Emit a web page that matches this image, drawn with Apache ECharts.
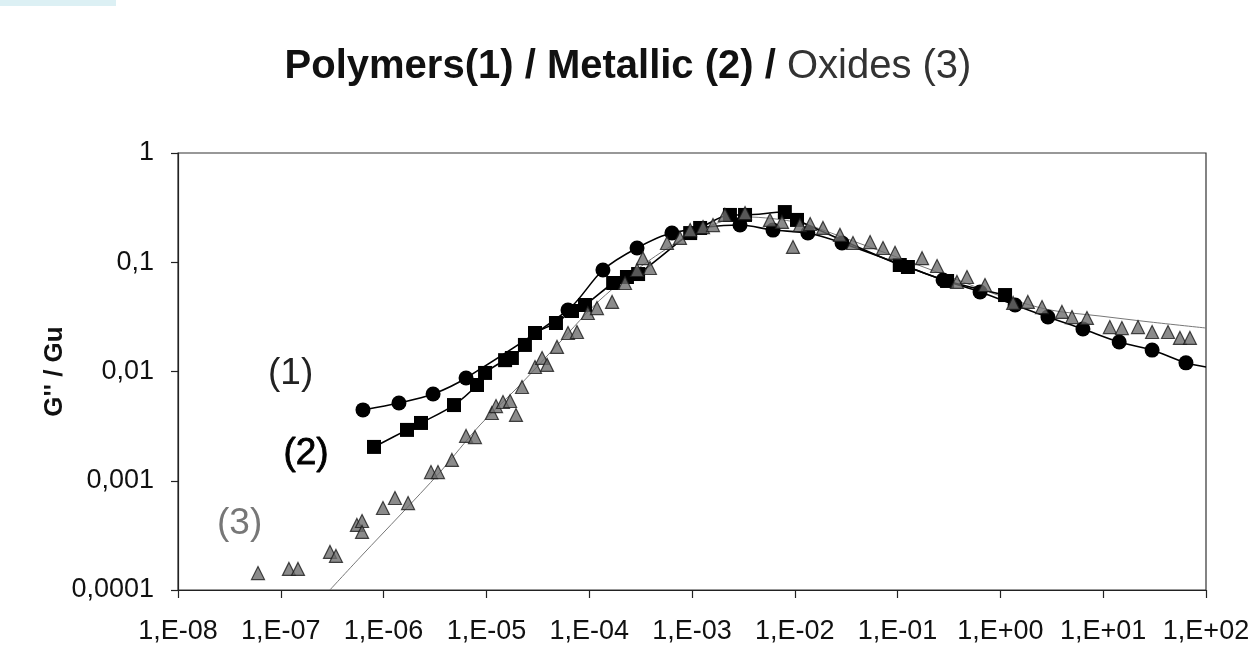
<!DOCTYPE html>
<html>
<head>
<meta charset="utf-8">
<script src="https://cdn.jsdelivr.net/npm/echarts@6/dist/echarts.min.js"></script>
<style>
html,body{margin:0;padding:0;background:#fff;}
#chart{width:1256px;height:646px;}
</style>
</head>
<body>
<div id="chart"></div>
<script>
// ---- data (x = frequency-like reduced variable, y = G''/Gu) ----
const xTickLabels = ['1,E-08','1,E-07','1,E-06','1,E-05','1,E-04','1,E-03','1,E-02','1,E-01','1,E+00','1,E+01','1,E+02'];
const yTickLabels = ['0,0001','0,001','0,01','0,1','1'];

// (1) Polymers - circles
const polymersX = [6.3e-7,1.41e-6,3.03e-6,6.34e-6,6.22e-5,1.36e-4,2.92e-4,6.38e-4,2.93e-3,6.14e-3,1.34e-2,2.88e-2,0.277,0.634,1.39,2.90,6.35,14.3,29.9,63.8];
const polymersY = [4.45e-3,5.15e-3,6.22e-3,8.72e-3,3.66e-2,8.49e-2,0.135,0.185,0.219,0.197,0.185,0.150,0.0688,0.0534,0.0406,0.0315,0.0245,0.0186,0.0157,0.0120];
// end of the polymers curve at the right border
const polymersTailX = [100];
const polymersTailY = [0.011];

// (2) Metallic - squares
const metallicX = [8.07e-7,1.69e-6,2.31e-6,4.84e-6,8.1e-6,9.7e-6,1.52e-5,1.77e-5,2.37e-5,2.97e-5,4.75e-5,6.8e-5,9.1e-5,1.71e-4,2.33e-4,2.99e-4,9.6e-4,1.2e-3,2.34e-3,3.28e-3,8.0e-3,1.05e-2,0.105,0.126,0.303,1.11];
const metallicY = [2.04e-3,2.92e-3,3.38e-3,4.93e-3,7.52e-3,9.7e-3,1.27e-2,1.33e-2,1.75e-2,2.25e-2,2.78e-2,3.58e-2,4.06e-2,6.46e-2,7.33e-2,7.8e-2,0.185,0.206,0.271,0.271,0.288,0.244,0.0944,0.0905,0.0674,0.0501];

// (3) Oxides - triangles
const oxidesX = [6.0e-8,1.20e-7,1.47e-7,3.01e-7,3.44e-7,5.5e-7,6.17e-7,6.17e-7,9.86e-7,1.29e-6,1.73e-6,2.89e-6,3.38e-6,4.62e-6,6.34e-6,7.74e-6,1.13e-5,1.24e-5,1.45e-5,1.70e-5,1.94e-5,2.22e-5,2.97e-5,3.48e-5,3.89e-5,4.86e-5,6.22e-5,7.6e-5,9.7e-5,1.19e-4,1.67e-4,2.23e-4,2.92e-4,3.33e-4,3.90e-4,5.71e-4,7.64e-4,9.6e-4,1.28e-3,1.60e-3,2.09e-3,3.28e-3,5.74e-3,7.5e-3,9.6e-3,1.12e-2,1.41e-2,1.88e-2,2.75e-2,3.68e-2,5.40e-2,7.21e-2,9.44e-2,0.173,0.242,0.378,0.473,0.708,1.33,1.85,2.54,3.97,4.97,6.95,11.6,15.2,21.8,29.9,42.7,55.8,69.8];
const oxidesY = [1.43e-4,1.56e-4,1.56e-4,2.23e-4,2.05e-4,3.94e-4,4.28e-4,3.40e-4,5.63e-4,6.95e-4,6.25e-4,1.20e-3,1.20e-3,1.55e-3,2.57e-3,2.51e-3,4.17e-3,4.83e-3,5.26e-3,5.37e-3,4.0e-3,7.21e-3,1.10e-2,1.33e-2,1.15e-2,1.68e-2,2.25e-2,2.30e-2,3.43e-2,3.81e-2,4.33e-2,6.46e-2,8.49e-2,0.109,0.0886,0.150,0.167,0.197,0.210,0.219,0.271,0.282,0.244,0.234,0.138,0.219,0.224,0.206,0.178,0.150,0.153,0.135,0.122,0.109,0.0924,0.0660,0.0733,0.0619,0.0424,0.0433,0.0389,0.0351,0.0315,0.0309,0.0255,0.0250,0.0255,0.0230,0.0230,0.0203,0.0203];
// thin fitted curve for oxides
const oxidesFitX = [3.0e-7,6.2e-7,1.45e-6,3.54e-6,8.67e-6,2.12e-5,5.2e-5,1.27e-4,3.9e-4,1.2e-3,3.28e-3,1.12e-2,3.44e-2,0.105,0.324,1.0,3.03,9.3,28.5,100];
const oxidesFitY = [1.0e-4,2.09e-4,4.86e-4,1.20e-3,3.24e-3,7.52e-3,1.86e-2,4.51e-2,0.105,0.197,0.260,0.229,0.160,0.109,0.0733,0.0491,0.0366,0.0322,0.0284,0.025];

const zip = (xs, ys) => xs.map((x, i) => [x, ys[i]]);

const chart = echarts.init(document.getElementById('chart'), null, {renderer: 'canvas'});
const FONT = 'Liberation Sans, Arial, sans-serif';

const option = {
  backgroundColor: '#ffffff',
  animation: false,
  title: {
    text: '{b|Polymers(1) / Metallic (2) / }{n|Oxides (3)}',
    left: 'center',
    top: 42,
    textStyle: {
      rich: {
        b: {fontFamily: FONT, fontWeight: 'bold', fontSize: 40, color: '#111'},
        n: {fontFamily: FONT, fontWeight: 'normal', fontSize: 40, color: '#333'}
      }
    }
  },
  grid: {
    left: 178, right: 50, top: 153, bottom: 56,
    show: true, borderColor: '#333', borderWidth: 1.2, backgroundColor: 'transparent'
  },
  xAxis: {
    type: 'log', logBase: 10, min: 1e-8, max: 100, interval: 1,
    axisLine: {show: true, lineStyle: {color: '#222', width: 1.2}},
    axisTick: {show: true, inside: false, length: 8, lineStyle: {color: '#222', width: 1.2}},
    splitLine: {show: false},
    minorTick: {show: false},
    axisLabel: {
      margin: 28, fontFamily: FONT, fontSize: 27, color: '#111', hideOverlap: false,
      formatter: function (v) {
        const i = Math.round(Math.log10(v)) + 8;
        return xTickLabels[i] !== undefined ? xTickLabels[i] : '';
      }
    }
  },
  yAxis: {
    type: 'log', logBase: 10, min: 1e-4, max: 1, interval: 1,
    name: "G'' / Gu", nameLocation: 'middle', nameGap: 110, nameRotate: 90,
    nameMoveOverlap: false,
    nameTextStyle: {fontFamily: FONT, fontWeight: 'bold', fontSize: 26, color: '#111'},
    axisLine: {show: true, lineStyle: {color: '#222', width: 1.2}},
    axisTick: {show: true, inside: false, length: 7, lineStyle: {color: '#222', width: 1.2}},
    splitLine: {show: false},
    axisLabel: {
      margin: 24, fontFamily: FONT, fontSize: 27, color: '#111',
      formatter: function (v) {
        const i = Math.round(Math.log10(v)) + 4;
        return yTickLabels[i] !== undefined ? yTickLabels[i] : '';
      }
    }
  },
  graphic: [
    {type: 'rect', left: 0, top: 0, shape: {width: 116, height: 6}, style: {fill: '#dcf0f4'}, silent: true},
    {type: 'text', left: 268, top: 355, style: {text: '(1)', fontFamily: FONT, fontSize: 37, fill: '#222'}},
    {type: 'text', left: 283, top: 435, style: {text: '(2)', fontFamily: FONT, fontSize: 37, fill: '#000', stroke: '#000', lineWidth: 0.8}},
    {type: 'text', left: 217, top: 505, style: {text: '(3)', fontFamily: FONT, fontSize: 37, fill: '#777'}}
  ],
  series: [
    {
      name: 'Oxides fit', type: 'line', data: zip(oxidesFitX, oxidesFitY),
      showSymbol: false, smooth: 0.3, z: 1,
      lineStyle: {color: '#777', width: 1}
    },
    {
      name: 'Polymers', type: 'line', data: zip(polymersX, polymersY).concat(zip(polymersTailX, polymersTailY)),
      symbol: 'circle', symbolSize: function (v, p) { return p.dataIndex >= polymersX.length ? 0 : 15; },
      smooth: 0.3, z: 3,
      itemStyle: {color: '#000'},
      lineStyle: {color: '#000', width: 1.6}
    },
    {
      name: 'Metallic', type: 'line', data: zip(metallicX, metallicY),
      symbol: 'rect', symbolSize: 14, smooth: 0.3, z: 3,
      itemStyle: {color: '#000'},
      lineStyle: {color: '#000', width: 1.6}
    },
    {
      name: 'Oxides', type: 'scatter', data: zip(oxidesX, oxidesY),
      symbol: 'triangle', symbolSize: 13, z: 4,
      itemStyle: {color: '#6e6e6e', borderColor: '#1a1a1a', borderWidth: 1.2}
    }
  ]
};
chart.setOption(option);
</script>
</body>
</html>
